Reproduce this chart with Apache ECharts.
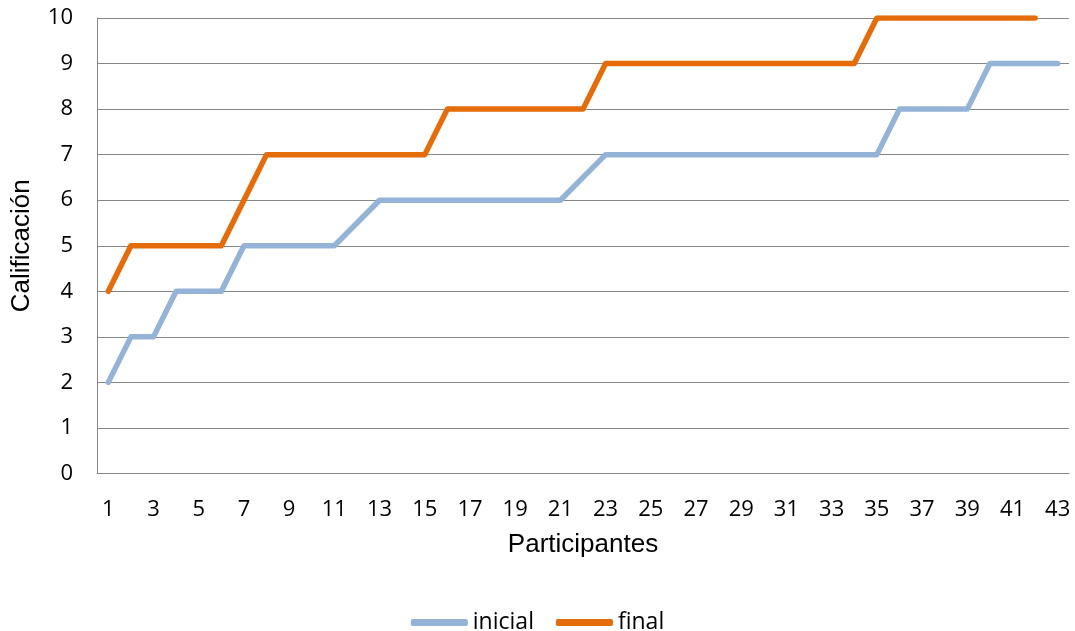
<!DOCTYPE html>
<html>
<head>
<meta charset="utf-8">
<script src="https://cdn.jsdelivr.net/npm/echarts@6/dist/echarts.min.js"></script>
<style>html,body{margin:0;padding:0;background:#fff;}#c{width:1075px;height:631px;}</style>
</head>
<body>
<div id="c"></div>
<script>
const participantes = [];
for (let i = 1; i <= 43; i++) participantes.push(String(i));
const inicial = [2,3,3,4,4,4,5,5,5,5,5,5.5,6,6,6,6,6,6,6,6,6,6.5,7,7,7,7,7,7,7,7,7,7,7,7,7,8,8,8,8,9,9,9,9];
const final = [4,5,5,5,5,5,6,7,7,7,7,7,7,7,7,8,8,8,8,8,8,8,9,9,9,9,9,9,9,9,9,9,9,9,10,10,10,10,10,10,10,10,null];
const yTicks = {min: 0, max: 10, interval: 1};

const chart = echarts.init(document.getElementById('c'), null, {renderer: 'canvas'});
const gray = '#868686';
chart.setOption({
  animation: false,
  backgroundColor: '#ffffff',
  grid: {left: 97, right: 6, top: 18, bottom: 157.5, containLabel: false},
  legend: {
    top: 606, left: 'center',
    itemWidth: 57, itemHeight: 7, itemGap: 22,
    icon: 'roundRect',
    textStyle: {fontFamily: 'Open Sans', fontSize: 23, color: '#000'},
    data: [{name: 'inicial'}, {name: 'final'}]
  },
  xAxis: {
    type: 'category',
    data: participantes,
    boundaryGap: true,
    name: 'Participantes',
    nameLocation: 'middle',
    nameGap: 58,
    nameTextStyle: {fontFamily: 'Liberation Sans', fontSize: 26, color: '#000'},
    axisLine: {lineStyle: {color: gray, width: 1}},
    axisTick: {show: false},
    axisLabel: {interval: 1, margin: 25, fontFamily: 'Open Sans', fontSize: 22, color: '#000'},
    splitLine: {show: false}
  },
  yAxis: {
    type: 'value',
    min: yTicks.min, max: yTicks.max, interval: yTicks.interval,
    name: 'Calificación',
    nameLocation: 'middle',
    nameGap: 62,
    nameTextStyle: {fontFamily: 'Liberation Sans', fontSize: 26, color: '#000'},
    axisLine: {show: true, lineStyle: {color: gray, width: 1}},
    axisTick: {show: false},
    axisLabel: {margin: 24, fontFamily: 'Open Sans', fontSize: 22, color: '#000'},
    splitLine: {show: true, lineStyle: {color: gray, width: 1}}
  },
  series: [
    {
      name: 'inicial', type: 'line', data: inicial,
      symbol: 'none', smooth: false,
      color: '#95B3D7',
      lineStyle: {color: '#95B3D7', width: 5.5, cap: 'round', join: 'round'}
    },
    {
      name: 'final', type: 'line', data: final,
      symbol: 'none', smooth: false, connectNulls: false,
      color: '#E46C0A',
      lineStyle: {color: '#E46C0A', width: 5.5, cap: 'round', join: 'round'}
    }
  ]
});
</script>
</body>
</html>
